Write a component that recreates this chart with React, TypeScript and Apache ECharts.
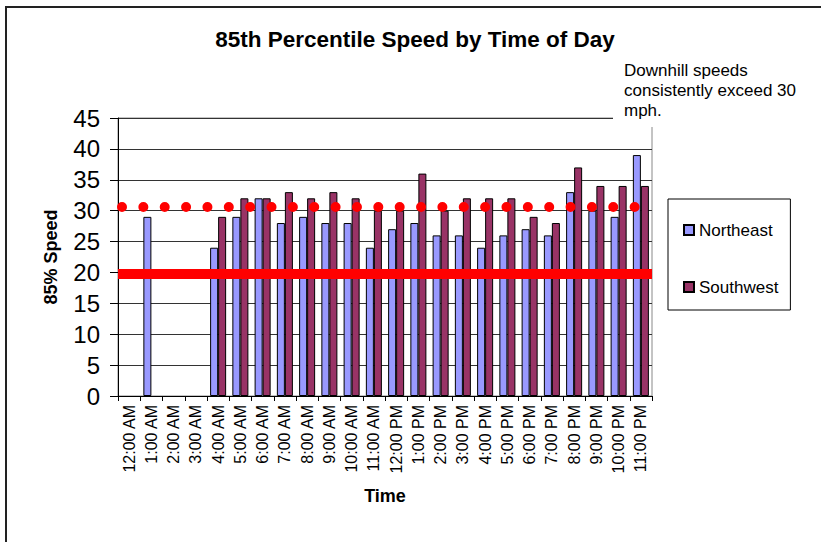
import React, { useEffect, useRef } from "react";
import * as echarts from "echarts";

const categories = [
  "12:00 AM", "1:00 AM", "2:00 AM", "3:00 AM", "4:00 AM", "5:00 AM",
  "6:00 AM", "7:00 AM", "8:00 AM", "9:00 AM", "10:00 AM", "11:00 AM",
  "12:00 PM", "1:00 PM", "2:00 PM", "3:00 PM", "4:00 PM", "5:00 PM",
  "6:00 PM", "7:00 PM", "8:00 PM", "9:00 PM", "10:00 PM", "11:00 PM",
];
const northeast = [null, 29, null, null, 24, 29, 32, 28, 29, 28, 28, 24, 27, 28, 26, 26, 24, 26, 27, 26, 33, 30, 29, 39];
const southwest = [null, null, null, null, 29, 32, 32, 33, 32, 33, 32, 30, 30, 36, 30, 32, 32, 32, 29, 28, 37, 34, 34, 34];
const speedLimit = 19.8;
const downhillLevel = 30.7;
const annotationLines = ["Downhill speeds", "consistently exceed 30", "mph."];

const FONT = "'Liberation Sans', Arial, sans-serif";

export default function App() {
  const ref = useRef<HTMLDivElement>(null);
  useEffect(() => {
    if (!ref.current) return;
    const chart = echarts.init(ref.current, undefined, { renderer: "svg" });
    chart.setOption({
      animation: false,
      backgroundColor: "#fff",
      textStyle: { fontFamily: FONT },
      title: {
        text: "85th Percentile Speed by Time of Day",
        left: 415,
        textAlign: "center",
        top: 28,
        padding: 0,
        textStyle: { fontFamily: FONT, fontSize: 22.5, fontWeight: "bold", color: "#000" },
      },
      legend: {
        orient: "vertical",
        left: 668,
        top: 199,
        padding: [21, 12, 13, 15],
        itemGap: 37,
        itemWidth: 10,
        itemHeight: 10,
        borderColor: "#000",
        borderWidth: 1,
        icon: "rect",
        textStyle: { fontFamily: FONT, fontSize: 17, color: "#000", lineHeight: 20 },
        data: ["Northeast", "Southwest"],
      },
      grid: {
        left: 118,
        right: 169,
        top: 118,
        bottom: 146,
        show: true,
        borderColor: "#888",
        borderWidth: 1,
        backgroundColor: "transparent",
      },
      xAxis: {
        type: "category",
        data: categories,
        boundaryGap: true,
        name: "Time",
        nameLocation: "middle",
        nameGap: 91,
        nameTextStyle: { fontFamily: FONT, fontSize: 18, fontWeight: "bold", color: "#000" },
        axisLine: { show: true, lineStyle: { color: "#000", width: 1 } },
        axisTick: { show: true, length: 5, alignWithLabel: false, interval: 0, lineStyle: { color: "#000" } },
        axisLabel: {
          rotate: 90,
          interval: 0,
          margin: 9,
          fontFamily: FONT,
          fontSize: 16,
          color: "#000",
        },
        splitLine: { show: false },
      },
      yAxis: {
        type: "value",
        min: 0,
        max: 45,
        interval: 5,
        name: "85% Speed",
        nameLocation: "middle",
        nameGap: 58,
        nameRotate: 90,
        nameTextStyle: { fontFamily: FONT, fontSize: 18, fontWeight: "bold", color: "#000" },
        axisLine: { show: true, lineStyle: { color: "#000", width: 1 } },
        axisTick: { show: true, length: 8, lineStyle: { color: "#000" } },
        axisLabel: { fontFamily: FONT, fontSize: 24, color: "#000", margin: 18 },
        splitLine: { show: true, lineStyle: { color: "#333", width: 1 } },
      },
      series: [
        {
          name: "Northeast",
          type: "bar",
          data: northeast,
          barGap: "0%",
          barCategoryGap: "28%",
          itemStyle: { color: "#9999FF", borderColor: "#000", borderWidth: 1 },
          markLine: {
            silent: true,
            symbol: "none",
            label: { show: false },
            data: [
              {
                yAxis: speedLimit,
                lineStyle: { color: "#FF0000", width: 10, type: "solid" },
              },
            ],
            z: 10,
          },
        },
        {
          name: "Southwest",
          type: "bar",
          data: southwest,
          barGap: "0%",
          barCategoryGap: "28%",
          itemStyle: { color: "#993366", borderColor: "#000", borderWidth: 1 },
          markLine: {
            silent: true,
            symbol: "none",
            label: { show: false },
            data: [
              {
                yAxis: downhillLevel,
                lineStyle: { color: "#FF0000", width: 10, type: [0, 21.36], cap: "round", dashOffset: -4 },
              },
            ],
            z: 10,
          },
        },
      ],
      graphic: [
        {
          type: "line",
          z: 100,
          shape: { x1: 6, y1: 6, x2: 6, y2: 542 },
          style: { stroke: "#222", lineWidth: 2 },
        },
        {
          type: "line",
          z: 100,
          shape: { x1: 5, y1: 7, x2: 821, y2: 7 },
          style: { stroke: "#222", lineWidth: 2 },
        },
        {
          type: "rect",
          z: 100,
          shape: { x: 613, y: 56, width: 195, height: 71 },
          style: { fill: "#fff" },
        },
        {
          type: "text",
          z: 101,
          left: 624,
          top: 60,
          style: {
            text: annotationLines.join("\n"),
            fontFamily: FONT,
            fontSize: 17,
            lineHeight: 20,
            fill: "#000",
          },
        },
      ],
    });
    return () => chart.dispose();
  }, []);
  return (
    <div
      ref={ref}
      style={{ position: "fixed", left: 0, top: 0, width: 821, height: 542, background: "#fff" }}
    />
  );
}
